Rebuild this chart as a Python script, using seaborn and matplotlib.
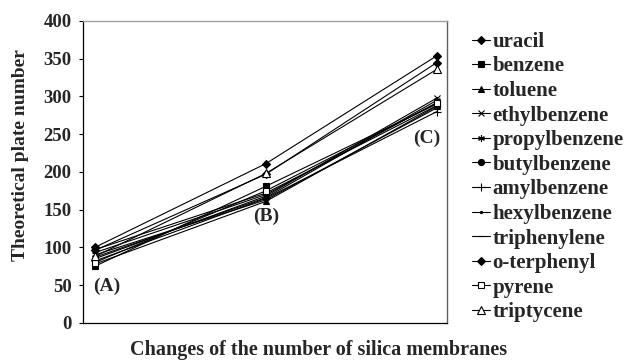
import matplotlib
matplotlib.use("Agg")
import matplotlib.pyplot as plt
import seaborn as sns
import pandas as pd

# ---- data ----
stages = [1, 2, 3]
stage_labels = ["(A)", "(B)", "(C)"]
compounds = ["uracil", "benzene", "toluene", "ethylbenzene", "propylbenzene",
             "butylbenzene", "amylbenzene", "hexylbenzene", "triphenylene",
             "o-terphenyl", "pyrene", "triptycene"]
uracil = [100, 211, 354]
benzene = [75, 181, 290]
toluene = [78, 161, 287]
ethylbenzene = [85, 168, 298]
propylbenzene = [87, 166, 295]
butylbenzene = [97, 172, 288]
amylbenzene = [82, 165, 280]
hexylbenzene = [90, 163, 285]
triphenylene = [93, 170, 292]
o_terphenyl = [96, 197, 345]
pyrene = [80, 175, 291]
triptycene = [88, 198, 336]
values = [uracil, benzene, toluene, ethylbenzene, propylbenzene, butylbenzene,
          amylbenzene, hexylbenzene, triphenylene, o_terphenyl, pyrene, triptycene]
yticks = [0, 50, 100, 150, 200, 250, 300, 350, 400]

sns.set_style("white")
plt.rcParams["font.family"] = ["Liberation Serif", "DejaVu Serif"]
plt.rcParams["font.weight"] = "bold"

FS = 14

fig = plt.figure(figsize=(6.37, 3.62), dpi=100)
ax = fig.add_axes([0.130, 0.108, 0.572, 0.834])

markers = {"uracil": "D", "benzene": "s", "toluene": "^", "ethylbenzene": "x",
           "propylbenzene": (6, 2, 0), "butylbenzene": "o", "amylbenzene": "+",
           "hexylbenzene": ".", "triphenylene": "_", "o-terphenyl": "D",
           "pyrene": "s", "triptycene": "^"}
sizes = {"uracil": 5.5, "benzene": 5.5, "toluene": 5.5, "ethylbenzene": 5,
         "propylbenzene": 6, "butylbenzene": 5.5, "amylbenzene": 7,
         "hexylbenzene": 4, "triphenylene": 6, "o-terphenyl": 5.5,
         "pyrene": 6, "triptycene": 6.5}

for name, vals in zip(compounds, values):
    d = pd.DataFrame({"stage": stages, "value": vals})
    face = "white" if name in ("pyrene", "triptycene") else "black"
    sns.lineplot(data=d, x="stage", y="value", color="black", linewidth=0.8,
                 marker=markers[name], markersize=sizes[name],
                 markerfacecolor=face, markeredgecolor="black",
                 markeredgewidth=0.8, label=name, ax=ax)

ax.set_xlim(0.93, 3.06)
ax.set_ylim(0, 400)
ax.set_yticks(yticks)
ax.set_yticklabels([str(t) for t in yticks], fontsize=13.5, fontweight="bold")
ax.set_xticks([])
ax.tick_params(axis="y", direction="out", length=3, width=0.8, color="black",
               pad=5, left=True)
ax.set_xlabel("")
ax.set_ylabel("")

for side in ["left", "bottom"]:
    ax.spines[side].set_color("black")
    ax.spines[side].set_linewidth(0.9)
ax.spines["top"].set_color("#a0a0a0")
ax.spines["right"].set_color("#606060")
ax.spines["top"].set_linewidth(1.0)
ax.spines["right"].set_linewidth(1.0)

label_pos = [(1.07, 48), (2.0, 141), (2.94, 244)]
for lab, (x, y) in zip(stage_labels, label_pos):
    ax.text(x, y, lab, fontsize=FS, fontweight="bold", ha="center", va="center")

fig.text(0.032, 0.572, "Theoretical plate number", rotation=90, fontsize=FS,
         fontweight="bold", ha="center", va="center")
fig.text(0.5, 0.033, "Changes of the number of silica membranes", fontsize=14.5,
         fontweight="bold", ha="center", va="center")

handles, labels = ax.get_legend_handles_labels()
if ax.legend_ is not None:
    ax.legend_.remove()
for h, name in zip(handles, compounds):
    h.set_markersize(sizes[name] * 0.8)
fig.legend(handles, labels, loc="upper left", bbox_to_anchor=(0.741, 0.912),
           frameon=False, prop={"weight": "bold", "size": 15},
           handlelength=0.87, handletextpad=0.12, labelspacing=0.22, borderpad=0,
           borderaxespad=0)

fig.savefig("out.png", dpi=100)
